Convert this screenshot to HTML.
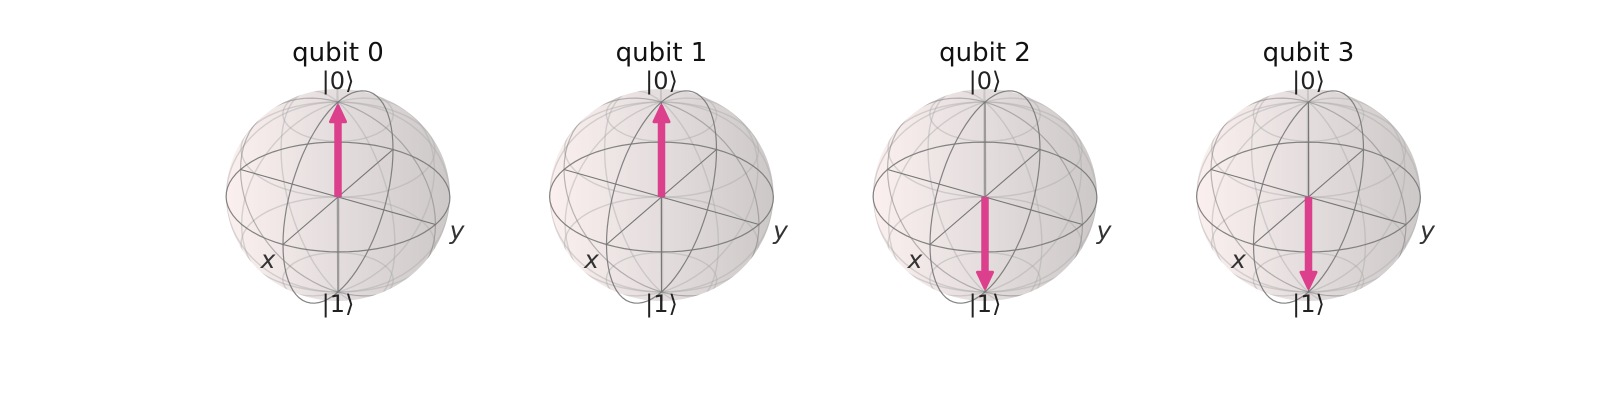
<!DOCTYPE html>
<html><head><meta charset="utf-8"><style>
html,body{margin:0;padding:0;background:#fff}
svg{display:block}
text{font-family:"DejaVu Sans","Liberation Sans",sans-serif}
</style></head><body>
<svg id="chart" width="1600" height="400" viewBox="0 0 1600 400" xmlns="http://www.w3.org/2000/svg">
<defs>
<linearGradient id="sph" x1="0" y1="0" x2="1" y2="0">
<stop offset="0" stop-color="#fbf0ef"/><stop offset="0.5" stop-color="#e4dddd"/><stop offset="1" stop-color="#cdc8c8"/>
</linearGradient>
</defs>
</svg>
<script>
const qubitLabels = ["qubit 0","qubit 1","qubit 2","qubit 3"];
const vecX = [0,0,0,0];
const vecY = [0,0,0,0];
const vecZ = [1,1,-1,-1];

const svg = document.getElementById('chart');
const NS = 'http://www.w3.org/2000/svg';
const centersX = [338, 661.5, 985, 1308.5];
const cy = 197;
const ex=[-55,47.5], ey=[97.5,27.5], ez=[0,-95];
function proj(cx,x,y,z){return [cx+x*ex[0]+y*ey[0]+z*ez[0], cy+x*ex[1]+y*ey[1]+z*ez[1]];}
function mk(tag,attrs,parent){const e=document.createElementNS(NS,tag);for(const k in attrs)e.setAttribute(k,attrs[k]);(parent||svg).appendChild(e);return e;}
function curve(cx,fn,g,stroke,w,op){
  let d='';for(let i=0;i<=72;i++){const t=i/72*2*Math.PI;const p=fn(t);const q=proj(cx,p[0],p[1],p[2]);d+=(i?'L':'M')+q[0].toFixed(1)+','+q[1].toFixed(1);}
  const e=mk('path',{d:d,fill:'none',stroke:stroke,'stroke-width':w,'stroke-opacity':op},g);return e;
}
const defs=svg.querySelector('defs');
for(let i=0;i<qubitLabels.length;i++){
  const cx=centersX[i];
  const cp=mk('clipPath',{id:'clip'+i},defs);
  mk('ellipse',{cx:cx,cy:cy-2,rx:112,ry:106},cp);
  const g=mk('g',{});
  
  
  const s=mk('ellipse',{cx:cx,cy:cy-2,rx:112,ry:106,fill:'url(#sph)'},g);
  
  
  const wf=mk('g',{'clip-path':'url(#clip'+i+')'},g);
  [-0.87,-0.5,0.5,0.87].forEach(z=>{const r=Math.sqrt(1-z*z);curve(cx,t=>[r*Math.cos(t),r*Math.sin(t),z],wf,'#aaa',1.4,0.45);});
  for(let k=1;k<6;k++){if(k===3)continue;const a=k*Math.PI/6;curve(cx,t=>[Math.cos(a)*Math.sin(t),Math.sin(a)*Math.sin(t),Math.cos(t)],wf,'#aaa',1.4,0.45);}
  curve(cx,t=>[Math.cos(t),Math.sin(t),0],g,'#777',1.2,0.9);
  curve(cx,t=>[Math.sin(t),0,Math.cos(t)],g,'#777',1.2,0.9);
  curve(cx,t=>[0,Math.sin(t),Math.cos(t)],wf,'#777',1.2,0.5);
  [[1,0,0],[0,1,0],[0,0,1]].forEach(v=>{const a=proj(cx,-v[0],-v[1],-v[2]),b=proj(cx,v[0],v[1],v[2]);mk('line',{x1:a[0],y1:a[1],x2:b[0],y2:b[1],stroke:'#777','stroke-width':1.1},g);});
  const o=proj(cx,0,0,0);const tp=proj(cx,vecX[i]*0.96,vecY[i]*0.96,vecZ[i]*0.96);
  const dx=tp[0]-o[0],dy=tp[1]-o[1],L=Math.hypot(dx,dy),ux=dx/L,uy=dy/L;
  const hb=[tp[0]-ux*16,tp[1]-uy*16];
  const sh=mk('line',{x1:o[0],y1:o[1],x2:hb[0],y2:hb[1],stroke:'#dc408c','stroke-width':7.5},g);
  
  
  const hd=mk('polygon',{points:`${tp[0]},${tp[1]} ${hb[0]-uy*7.5},${hb[1]+ux*7.5} ${hb[0]+uy*7.5},${hb[1]-ux*7.5}`,fill:'#dc408c',stroke:'#dc408c','stroke-width':3,'stroke-linejoin':'round'},g);
  
  
  const t=mk('text',{x:cx,y:61,'text-anchor':'middle','font-size':26,fill:'#111'},g);t.textContent=qubitLabels[i];
  
  
  const k0=mk('text',{x:cx,y:89,'text-anchor':'middle','font-size':24,fill:'#222'},g);k0.textContent='|0⟩';
  
  
  const k1=mk('text',{x:cx,y:312,'text-anchor':'middle','font-size':24,fill:'#222'},g);k1.textContent='|1⟩';
  
  
  const xl=mk('text',{x:cx-70,y:268,'text-anchor':'middle','font-size':25,'font-style':'italic',fill:'#333'},g);xl.textContent='x';
  
  
  const yl=mk('text',{x:cx+119,y:239,'text-anchor':'middle','font-size':25,'font-style':'italic',fill:'#333'},g);yl.textContent='y';
  
  
}
</script>
</body></html>
